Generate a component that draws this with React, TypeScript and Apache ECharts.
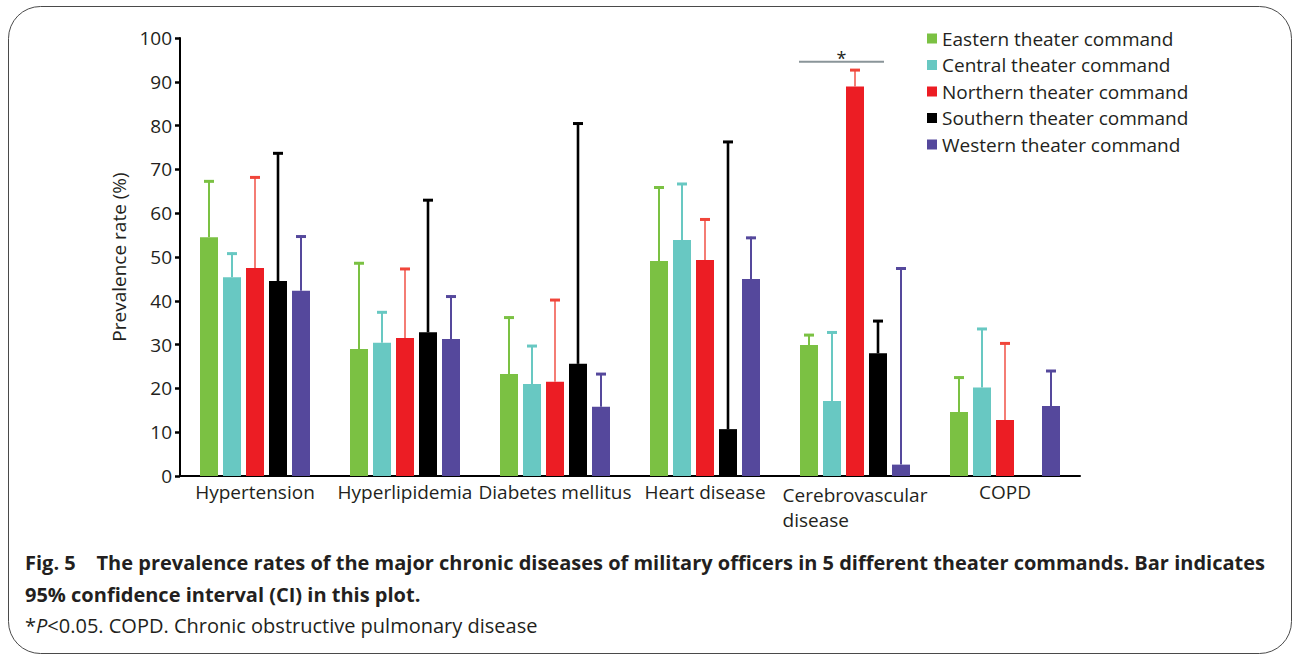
import React, { useEffect, useRef } from "react";
import * as echarts from "echarts";

const categories = [
  "Hypertension",
  "Hyperlipidemia",
  "Diabetes mellitus",
  "Heart disease",
  "Cerebrovascular\ndisease",
  "COPD",
];

const seriesNames = [
  "Eastern theater command",
  "Central theater command",
  "Northern theater command",
  "Southern theater command",
  "Western theater command",
];

const eastern = [54.5, 29.0, 23.3, 49.1, 29.9, 14.6];
const easternUpper = [67.5, 48.8, 36.4, 66.1, 32.4, 22.7];
const central = [45.4, 30.4, 21.0, 53.9, 17.1, 20.2];
const centralUpper = [51.0, 37.6, 29.9, 66.9, 33.0, 33.8];
const northern = [47.5, 31.5, 21.5, 49.3, 88.9, 12.8];
const northernUpper = [68.4, 47.5, 40.4, 58.8, 92.9, 30.5];
const southern = [44.5, 32.8, 25.6, 10.7, 28.0, 0];
const southernUpper = [73.9, 63.2, 80.7, 76.5, 35.6, null];
const western = [42.3, 31.3, 15.8, 45.0, 2.6, 16.0];
const westernUpper = [54.9, 41.2, 23.5, 54.6, 47.6, 24.2];

const significanceCategory = 4;
const significanceLevel = 94.6;

const yTicks = { min: 0, max: 100, interval: 10 };

const colors = ["#7bc143", "#68c8c2", "#ec1d24", "#000000", "#55489c"];
const whiskerColors = ["#7bc143", "#68c8c2", "#f0453a", "#000000", "#55489c"];
const whiskerWidths = [2, 2, 1.4, 2.6, 2];

const values = [eastern, central, northern, southern, western];
const uppers = [easternUpper, centralUpper, northernUpper, southernUpper, westernUpper];

const BAR_W = 18;
const BAR_GAP = 5;
const TEXT = "#231f20";
const FONT = "'Open Sans', 'Noto Sans', sans-serif";

export default function App() {
  const ref = useRef<HTMLDivElement>(null);

  useEffect(() => {
    if (!ref.current) return;
    const chart = echarts.init(ref.current, null, { renderer: "svg" });

    const barSeries = seriesNames.map((name, s) => ({
      name,
      type: "bar",
      data: values[s],
      barWidth: BAR_W,
      barGap: `${(BAR_GAP / BAR_W) * 100}%`,
      itemStyle: { color: colors[s] },
      z: 2,
    }));

    const errSeries = seriesNames.map((name, s) => ({
      name,
      type: "custom",
      z: 3,
      data: values[s]
        .map((v, i) => (uppers[s][i] == null ? null : [i, v, uppers[s][i]]))
        .filter((d) => d != null),
      encode: { x: 0, y: 2 },
      renderItem: (params: any, api: any) => {
        const ci = api.value(0);
        const lo = api.value(1);
        const hi = api.value(2);
        const p0 = api.coord([ci, lo]);
        const p1 = api.coord([ci, hi]);
        const x = p0[0] + (s - 2) * (BAR_W + BAR_GAP);
        return {
          type: "group",
          children: [
            {
              type: "line",
              shape: { x1: x, y1: p0[1], x2: x, y2: p1[1] },
              style: { stroke: whiskerColors[s], lineWidth: whiskerWidths[s] },
            },
            {
              type: "line",
              shape: { x1: x - 5, y1: p1[1] + 1, x2: x + 5, y2: p1[1] + 1 },
              style: { stroke: whiskerColors[s], lineWidth: 3 },
            },
          ],
        };
      },
    }));

    const sigSeries = {
      type: "custom",
      name: "sig",
      z: 4,
      silent: true,
      data: [[significanceCategory, significanceLevel]],
      encode: { x: 0, y: 1 },
      renderItem: (params: any, api: any) => {
        const p = api.coord([api.value(0), api.value(1)]);
        const step = BAR_W + BAR_GAP;
        const x1 = p[0] - 2 * step - BAR_W / 2 - 1;
        const x2 = p[0] + step + BAR_W / 2 - 3;
        const mid = (x1 + x2) / 2;
        return {
          type: "group",
          children: [
            {
              type: "line",
              shape: { x1, y1: p[1], x2, y2: p[1] },
              style: { stroke: "#8a9599", lineWidth: 2 },
            },
            {
              type: "text",
              x: mid,
              y: p[1] + 5,
              style: {
                text: "*",
                fill: TEXT,
                font: `18px ${FONT}`,
                align: "center",
                verticalAlign: "bottom",
              },
            },
          ],
        };
      },
    };

    chart.setOption({
      animation: false,
      color: colors,
      textStyle: { fontFamily: FONT },
      grid: { left: 180, right: 212, top: 38, bottom: 179 },
      legend: {
        data: seriesNames,
        orient: "vertical",
        left: 922,
        top: 24,
        itemWidth: 10,
        itemHeight: 10,
        itemGap: 7.5,
        icon: "rect",
        textStyle: { fontSize: 19, color: TEXT, fontFamily: FONT },
      },
      xAxis: {
        type: "category",
        data: categories,
        axisLine: { lineStyle: { color: "#000", width: 2 } },
        axisTick: { show: false },
        axisLabel: {
          interval: 0,
          fontSize: 19,
          color: TEXT,
          margin: 6,
          fontFamily: FONT,
          formatter: (v: string) =>
            v.indexOf("\n") >= 0
              ? v
                  .split("\n")
                  .map((t) => `{l|${t}}`)
                  .join("\n")
              : v,
          rich: {
            l: { align: "left", fontSize: 19, color: TEXT, fontFamily: FONT, lineHeight: 25 },
          },
        },
      },
      yAxis: {
        type: "value",
        min: yTicks.min,
        max: yTicks.max,
        interval: yTicks.interval,
        name: "Prevalence rate (%)",
        nameLocation: "middle",
        nameRotate: 90,
        nameGap: 44,
        nameTextStyle: { fontSize: 19, color: TEXT, fontFamily: FONT },
        axisLine: { show: true, lineStyle: { color: "#000", width: 2 } },
        axisTick: { show: true, length: 5, lineStyle: { color: "#000", width: 2.5 } },
        axisLabel: { fontSize: 19, color: TEXT, margin: 8, fontFamily: FONT },
        splitLine: { show: false },
      },
      graphic: [
        {
          type: "rect",
          shape: { x: 8.5, y: 6.5, width: 1283, height: 647, r: 32 },
          style: { fill: "none", stroke: "#4a4a4a", lineWidth: 1 },
          silent: true,
        },
        {
          type: "text",
          left: 25,
          top: 552,
          style: {
            text:
              "Fig. 5    The prevalence rates of the major chronic diseases of military officers in 5 different theater commands. Bar indicates",
            fill: TEXT,
            font: `bold 20px ${FONT}`,
          },
        },
        {
          type: "text",
          left: 25,
          top: 584,
          style: {
            text: "95% confidence interval (CI) in this plot.",
            fill: TEXT,
            font: `bold 20px ${FONT}`,
          },
        },
        {
          type: "text",
          left: 25,
          top: 615,
          style: {
            text: "*{i|P}<0.05. COPD. Chronic obstructive pulmonary disease",
            fill: TEXT,
            font: `20px ${FONT}`,
            rich: {
              i: { fontStyle: "italic", fontSize: 20, fill: TEXT, fontFamily: FONT },
            },
          },
        },
      ],
      series: [...barSeries, ...errSeries, sigSeries],
    });

    return () => chart.dispose();
  }, []);

  return (
    <div
      ref={ref}
      style={{ position: "fixed", left: 0, top: 0, width: 1292, height: 655, background: "#fff" }}
    />
  );
}
